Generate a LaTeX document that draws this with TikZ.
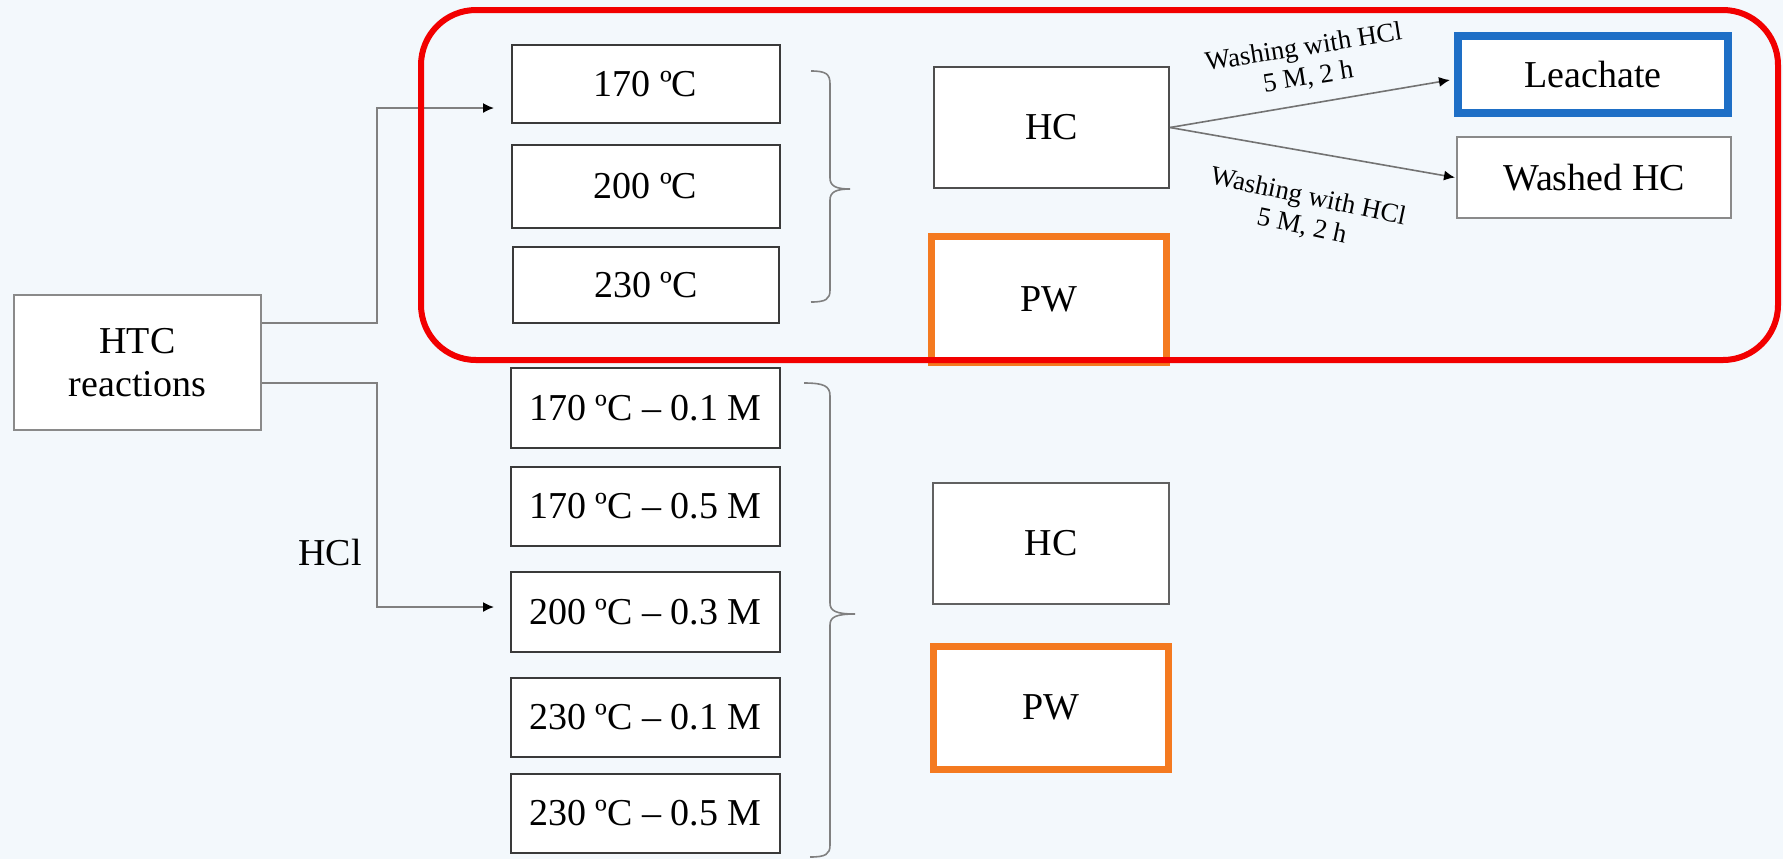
\documentclass[tikz,border=0pt]{standalone}
\usepackage{fontspec}
\setmainfont{Liberation Serif}
\usetikzlibrary{arrows.meta,calc}
\definecolor{bgc}{HTML}{F3F8FC}
\definecolor{frame}{HTML}{F20000}
\definecolor{orng}{HTML}{F47A20}
\definecolor{blu}{HTML}{1E6FC6}
\definecolor{dk}{HTML}{3A3A3A}
\definecolor{gr}{HTML}{8A8A8A}
\definecolor{ln}{HTML}{808080}
\tikzset{
  bx/.style={draw=dk, fill=white, line width=1pt, inner sep=0pt, text=black,
    font=\fontsize{19}{22}\selectfont},
  graybx/.style={bx, draw=gr},
  pwbx/.style={bx, draw=orng, line width=3.5pt},
  leachbx/.style={bx, draw=blu, line width=4pt},
  conn/.style={draw=ln, line width=0.8pt, -{Latex[length=5.5pt,width=5pt,color=black]}},
  warr/.style={draw=ln!90!black, line width=0.8pt, -{Latex[length=5.5pt,width=5pt,color=black]}},
  brace/.style={draw=ln, line width=0.8pt},
  lbl/.style={font=\fontsize{13.4}{15}\selectfont, align=center, inner sep=0pt, text=black},
  plain/.style={font=\fontsize{19}{22}\selectfont, inner sep=0pt, text=black}
}
\begin{document}
\begin{tikzpicture}[x=0.5pt, y=-0.5pt]
\fill[bgc] (0,0) rectangle (1783,859);
\useasboundingbox (0,0) rectangle (1783,859);

% left box
\node[graybx, minimum width=123.5pt, minimum height=67.5pt, align=center,
  font=\fontsize{19}{21.5}\selectfont] (htc) at (137.5,362.5) {HTC\\reactions};

% temperature boxes (no HCl)
\node[bx, minimum width=134pt, minimum height=39pt]   (t170) at (645.5,84)  {170 ºC};
\node[bx, minimum width=134pt, minimum height=41.5pt] (t200) at (645.5,186.5) {200 ºC};
\node[bx, minimum width=133pt, minimum height=38pt]   (t230) at (646,285) {230 ºC};

% temperature boxes (HCl)
\node[bx, minimum width=134.5pt, minimum height=40pt]   (m1) at (645.5,408)   {170 ºC – 0.1 M};
\node[bx, minimum width=134.5pt, minimum height=39.5pt] (m2) at (645.5,506.5) {170 ºC – 0.5 M};
\node[bx, minimum width=134.5pt, minimum height=40pt]   (m3) at (645.5,612)   {200 ºC – 0.3 M};
\node[bx, minimum width=134.5pt, minimum height=39.5pt] (m4) at (645.5,717.5) {230 ºC – 0.1 M};
\node[bx, minimum width=134.5pt, minimum height=39.5pt] (m5) at (645.5,813.5) {230 ºC – 0.5 M};

% products
\node[bx, draw=dk!90, minimum width=117.5pt, minimum height=60.5pt] (hc1) at (1051.5,127.5) {HC};
\node[pwbx, minimum width=117.5pt, minimum height=63pt] (pw1) at (1049,299) {PW};
\node[bx, draw=dk!80, minimum width=118pt, minimum height=60.5pt] (hc2) at (1051,543.5) {HC};
\node[pwbx, minimum width=117.5pt, minimum height=61.5pt] (pw2) at (1050.5,707.5) {PW};

\node[leachbx, minimum width=135pt, minimum height=38.5pt] (leach) at (1593,74.5) {Leachate};
\node[graybx, minimum width=137pt, minimum height=40.5pt] (washed) at (1594,177.5) {Washed HC};

% braces
\draw[brace] (811,71) .. controls (826,71) and (830,74) .. (830,84) -- (830,178)
  .. controls (830,186) and (836,189) .. (850,189)
  .. controls (836,189) and (830,192) .. (830,200) -- (830,290)
  .. controls (830,299) and (826,302) .. (811,302);
\draw[brace] (804,383) .. controls (824,383) and (830,386) .. (830,396) -- (830,603)
  .. controls (830,611) and (836,614) .. (855,614)
  .. controls (836,614) and (830,617) .. (830,625) -- (830,845)
  .. controls (830,854) and (826,857) .. (810,857);

% connectors from HTC
\coordinate (j1) at (377,323);
\coordinate (a1) at (494,108);
\coordinate (j2) at (377,383);
\coordinate (a2) at (494,607);
\draw[conn] (htc.east |- j1) -- (j1) |- (a1);
\draw[conn] (htc.east |- j2) -- (j2) |- (a2);
\node[plain] (hcl) at (330,552) {HCl};

% washing arrows
\draw[warr] (hc1.east) -- ($(leach.west)+(-4,5.5)$);
\draw[warr] (hc1.east) -- ($(washed.west)+(-1,0)$);
\node[lbl, rotate=9] (w1) at (1306,63) {Washing with HCl\\5 M, 2 h};
\node[lbl, rotate=-12] (w2) at (1305,212) {Washing with HCl\\5 M, 2 h};

% red frame
\draw[frame, line width=3pt, rounded corners=27.5pt] (421,10) rectangle (1778,360);
\end{tikzpicture}
\end{document}
